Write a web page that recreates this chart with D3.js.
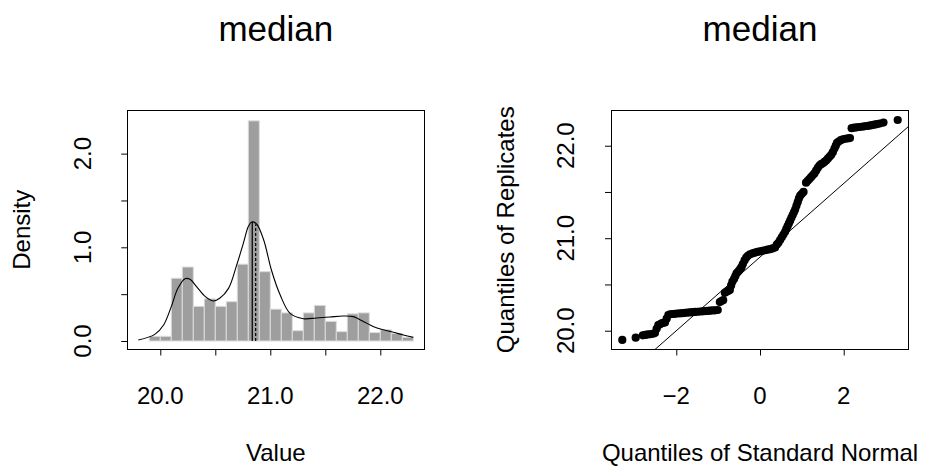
<!DOCTYPE html>
<html>
<head>
<meta charset="utf-8">
<script src="https://cdn.jsdelivr.net/npm/d3@7"></script>
<style>
  body { margin: 0; background: #fff; }
  svg text { font-family: "Liberation Sans", Arial, Helvetica, sans-serif; fill: #000; }
</style>
</head>
<body>
<div id="chart"></div>
<script>
// histogram of bootstrap replicates (density scale)
const binEdges = [19.9, 20.0, 20.1, 20.2, 20.3, 20.4, 20.5, 20.6, 20.7, 20.8, 20.9, 21.0,
                  21.1, 21.2, 21.3, 21.4, 21.5, 21.6, 21.7, 21.8, 21.9, 22.0, 22.1, 22.2, 22.3];
const binDensity = [0.05, 0.05, 0.67, 0.79, 0.37, 0.45, 0.37, 0.42, 0.82, 2.35, 0.74, 0.34,
                    0.30, 0.11, 0.30, 0.38, 0.21, 0.10, 0.29, 0.30, 0.09, 0.12, 0.08, 0.04];

// kernel density curve
const densX = [19.80, 19.95, 20.03, 20.10, 20.16, 20.225, 20.27, 20.33, 20.41, 20.48, 20.54,
               20.62, 20.69, 20.755, 20.80, 20.83, 20.875, 20.94, 21.01, 21.09, 21.18, 21.30,
               21.42, 21.54, 21.66, 21.755, 21.85, 21.94, 22.01, 22.12, 22.21, 22.30];
const densY = [0.011, 0.071, 0.171, 0.367, 0.562, 0.665, 0.658, 0.58, 0.473, 0.427, 0.456,
               0.562, 0.794, 1.043, 1.221, 1.270, 1.249, 1.078, 0.758, 0.491, 0.295, 0.238,
               0.246, 0.256, 0.267, 0.26, 0.206, 0.153, 0.125, 0.093, 0.064, 0.039];

// vertical marks: observed statistic (solid) and mean of replicates (dashed)
const markX = [20.836, 20.867];
const markH = [1.27, 1.245];
const markDash = [null, "3,2"];

// qq plot: [normal quantile, replicate quantile]
const qqPoints = [
  [-3.29, 19.90], [-2.97, 19.925], [-2.80, 19.95], [-2.74, 19.955], [-2.68, 19.96], [-2.62, 19.962],
  [-2.56, 19.967], [-2.51, 19.975], [-2.47, 20.02], [-2.43, 20.06], [-2.39, 20.07], [-2.35, 20.08],
  [-2.31, 20.085], [-2.27, 20.09], [-2.23, 20.13], [-2.19, 20.17], [-2.15, 20.178], [-2.09, 20.181],
  [-2.03, 20.183], [-1.97, 20.186], [-1.91, 20.188], [-1.85, 20.19], [-1.79, 20.193], [-1.73, 20.196],
  [-1.67, 20.198], [-1.61, 20.201], [-1.55, 20.203], [-1.49, 20.205], [-1.43, 20.208], [-1.37, 20.21],
  [-1.31, 20.212], [-1.25, 20.214], [-1.19, 20.217], [-1.13, 20.219], [-1.07, 20.221], [-1.01, 20.224],
  [-0.96, 20.31], [-0.92, 20.32], [-0.88, 20.33], [-0.84, 20.41], [-0.80, 20.42], [-0.76, 20.43],
  [-0.72, 20.44], [-0.69, 20.49], [-0.66, 20.53], [-0.62, 20.56], [-0.59, 20.59], [-0.56, 20.62],
  [-0.53, 20.635], [-0.50, 20.65], [-0.47, 20.67], [-0.44, 20.69], [-0.41, 20.72], [-0.37, 20.76],
  [-0.33, 20.79], [-0.29, 20.81], [-0.24, 20.826], [-0.18, 20.836], [-0.12, 20.845], [-0.06, 20.852],
  [0.00, 20.858], [0.06, 20.864], [0.12, 20.87], [0.18, 20.876], [0.24, 20.882], [0.30, 20.89],
  [0.36, 20.90], [0.40, 20.93], [0.44, 20.95], [0.48, 20.98], [0.52, 21.01], [0.56, 21.04],
  [0.60, 21.07], [0.63, 21.10], [0.66, 21.13], [0.69, 21.16], [0.72, 21.19], [0.75, 21.22],
  [0.78, 21.25], [0.81, 21.28], [0.84, 21.31], [0.87, 21.35], [0.90, 21.39], [0.93, 21.43],
  [0.96, 21.46], [1.00, 21.48], [1.04, 21.50], [1.10, 21.60], [1.14, 21.62], [1.18, 21.64],
  [1.22, 21.66], [1.26, 21.68], [1.30, 21.70], [1.34, 21.73], [1.38, 21.76], [1.42, 21.785],
  [1.46, 21.80], [1.50, 21.81], [1.54, 21.825], [1.58, 21.84], [1.62, 21.86], [1.66, 21.88],
  [1.70, 21.90], [1.74, 21.93], [1.78, 21.97], [1.81, 22.00], [1.84, 22.03], [1.88, 22.045],
  [1.93, 22.06], [1.98, 22.07], [2.04, 22.075], [2.10, 22.08], [2.15, 22.082], [2.19, 22.19],
  [2.25, 22.195], [2.31, 22.199], [2.37, 22.202], [2.43, 22.205], [2.49, 22.209], [2.55, 22.213],
  [2.61, 22.217], [2.67, 22.222], [2.73, 22.227], [2.79, 22.233], [2.86, 22.24], [2.95, 22.25],
  [3.29, 22.278]
];
// reference line y = a + b*x
const qqIntercept = 20.796;
const qqSlope = 0.398;

// ticks
const histXTicks = [20, 20.5, 21, 21.5, 22];
const histXLabels = [20, 21, 22];
const histYTicks = [0, 0.5, 1, 1.5, 2];
const histYLabels = [0, 1, 2];
const qqXTicks = [-2, 0, 2];
const qqYTicks = [20, 20.5, 21, 21.5, 22];
const qqYLabels = [20, 21, 22];

const W = 926, H = 466;
const svg = d3.select("#chart").append("svg").attr("width", W).attr("height", H);

const plotTop = 110, plotBottom = 349.5;

function panel(left, right, xDomain, yDomain, title, xTitle, yTitle, xTicks, xLabels, yTicks, yLabels, xFmt, yFmt) {
    const x = d3.scaleLinear().domain(xDomain).range([left, right]);
    const y = d3.scaleLinear().domain(yDomain).range([plotBottom, plotTop]);

    const gx = svg.append("g").attr("transform", `translate(0,${plotBottom})`)
        .call(d3.axisBottom(x).tickValues(xTicks).tickSize(6).tickSizeOuter(0).tickFormat(""));
    gx.select(".domain").remove();
    gx.selectAll("line").attr("stroke", "#000");

    svg.selectAll(null).data(xLabels).enter().append("text")
        .attr("x", d => x(d)).attr("y", 404)
        .attr("text-anchor", "middle").style("font-size", "24px")
        .text(xFmt);

    const gy = svg.append("g").attr("transform", `translate(${left},0)`)
        .call(d3.axisLeft(y).tickValues(yTicks).tickSize(6).tickSizeOuter(0).tickFormat(""));
    gy.select(".domain").remove();
    gy.selectAll("line").attr("stroke", "#000");

    svg.selectAll(null).data(yLabels).enter().append("text")
        .attr("transform", d => `translate(${left - 36.6},${y(d)}) rotate(-90)`)
        .attr("text-anchor", "middle").style("font-size", "24px")
        .text(yFmt);

    svg.append("text")
        .attr("x", (left + right) / 2).attr("y", 41)
        .attr("text-anchor", "middle").style("font-size", "35px")
        .text(title);

    svg.append("text")
        .attr("x", (left + right) / 2).attr("y", 461)
        .attr("text-anchor", "middle").style("font-size", "24px")
        .text(xTitle);

    svg.append("text")
        .attr("transform", `translate(${left - 97.3},${(plotTop + plotBottom) / 2}) rotate(-90)`)
        .attr("text-anchor", "middle").style("font-size", "24px")
        .text(yTitle);

    return {x, y};
}

// ---------- left: histogram ----------
const L = panel(127.3, 424.3, [19.7, 22.4], [-0.0907, 2.4656], "median", "Value", "Density",
    histXTicks, histXLabels, histYTicks, histYLabels, d3.format(".1f"), d3.format(".1f"));

svg.append("g").selectAll("rect")
    .data(binDensity)
    .enter().append("rect")
    .attr("x", (d, i) => L.x(binEdges[i]))
    .attr("width", (d, i) => L.x(binEdges[i + 1]) - L.x(binEdges[i]))
    .attr("y", d => L.y(d))
    .attr("height", d => L.y(0) - L.y(d))
    .attr("fill", "#9e9e9e")
    .attr("stroke", "#dcdcdc")
    .attr("stroke-width", 1);

const densLine = d3.line()
    .x(d => L.x(d[0])).y(d => L.y(d[1]))
    .curve(d3.curveCatmullRom.alpha(0.5));

svg.append("path")
    .datum(densX.map((v, i) => [v, densY[i]]))
    .attr("fill", "none").attr("stroke", "#000").attr("stroke-width", 1.1)
    .attr("d", densLine);

svg.append("g").selectAll("line")
    .data(markX)
    .enter().append("line")
    .attr("x1", d => L.x(d)).attr("x2", d => L.x(d))
    .attr("y1", L.y(0)).attr("y2", (d, i) => L.y(markH[i]))
    .attr("stroke", "#000").attr("stroke-width", 1.2)
    .attr("stroke-dasharray", (d, i) => markDash[i]);

svg.append("rect")
    .attr("x", 127.5).attr("y", 110.5).attr("width", 297).attr("height", 239)
    .attr("fill", "none").attr("stroke", "#000").attr("stroke-width", 1);

// ---------- right: normal qq plot ----------
const R = panel(611, 909, [-3.56, 3.56], [19.797, 22.386], "median",
    "Quantiles of Standard Normal", "Quantiles of Replicates",
    qqXTicks, qqXTicks, qqYTicks, qqYLabels, d => d3.format("d")(d).replace("-", "\u2212"), d3.format(".1f"));

svg.append("clipPath").attr("id", "qqclip")
    .append("rect").attr("x", 611).attr("y", 110).attr("width", 298).attr("height", 239.5);

const xd = R.x.domain();
svg.append("line")
    .attr("clip-path", "url(#qqclip)")
    .attr("x1", R.x(xd[0])).attr("y1", R.y(qqIntercept + qqSlope * xd[0]))
    .attr("x2", R.x(xd[1])).attr("y2", R.y(qqIntercept + qqSlope * xd[1]))
    .attr("stroke", "#000").attr("stroke-width", 1);

svg.append("g").selectAll("circle")
    .data(qqPoints)
    .enter().append("circle")
    .attr("cx", d => R.x(d[0]))
    .attr("cy", d => R.y(d[1]))
    .attr("r", 4.1)
    .attr("fill", "#000");

svg.append("rect")
    .attr("x", 611.5).attr("y", 110.5).attr("width", 297).attr("height", 239)
    .attr("fill", "none").attr("stroke", "#000").attr("stroke-width", 1);
</script>
</body>
</html>
